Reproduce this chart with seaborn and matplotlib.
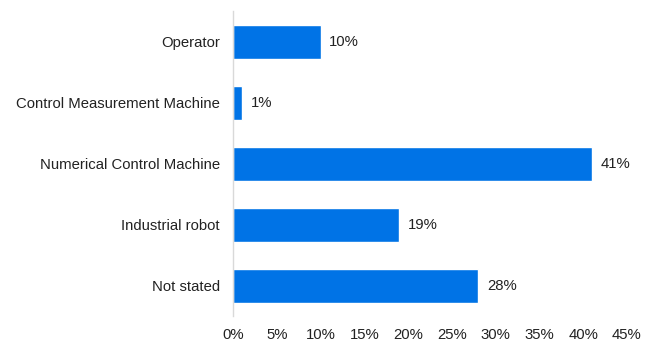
import matplotlib
matplotlib.use("Agg")
import matplotlib.pyplot as plt
import seaborn as sns
import pandas as pd

categories = ["Operator", "Control Measurement Machine", "Numerical Control Machine",
              "Industrial robot", "Not stated"]
shares = [10, 1, 41, 19, 28]
tick_values = [0, 5, 10, 15, 20, 25, 30, 35, 40, 45]
tick_labels = [f"{v}%" for v in tick_values]

sns.set_theme(style="white")
plt.rcParams["font.family"] = ["Liberation Sans", "DejaVu Sans"]

df = pd.DataFrame({"category": categories, "share": shares})

fig = plt.figure(figsize=(6.53, 3.44), dpi=100)
ax = fig.add_axes([0.357, 0.080, 0.603, 0.887])

sns.barplot(data=df, x="share", y="category", color="#0073E6", saturation=1,
            width=0.56, ax=ax, orient="h")

for i, v in enumerate(shares):
    ax.text(v + 1.0, i, f"{v}%", va="center", ha="left", fontsize=10.7, color="#222222")

ax.set_xlim(0, 45)
ax.set_ylim(4.5, -0.5)
ax.set_xticks(tick_values)
ax.set_xticklabels(tick_labels, fontsize=10.7, color="#222222")
ax.tick_params(axis="y", labelsize=10.7, colors="#222222", length=0, pad=9.5)
ax.tick_params(axis="x", length=0, pad=8)
ax.set_xlabel("")
ax.set_ylabel("")

for side in ["top", "right", "bottom"]:
    ax.spines[side].set_visible(False)
ax.spines["left"].set_color("#d9d9d9")
ax.spines["left"].set_linewidth(1.0)

fig.savefig("out.png", dpi=100, facecolor="white")
